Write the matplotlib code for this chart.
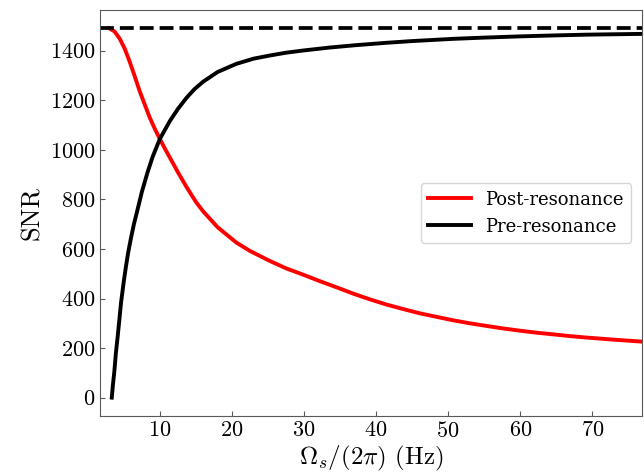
import matplotlib
matplotlib.use("Agg")
import matplotlib.pyplot as plt

freq_post = [3.0, 3.7, 4.4, 5.1, 5.8, 6.5, 7.2, 7.9, 8.6, 9.3, 10.0, 10.7, 11.4,
             12.5, 13.7, 15.0, 16.0, 18.0, 20.6, 22.5, 25.3, 27.5, 29.9,
             32.2, 35.0, 36.8, 39.0, 41.4, 43.7, 46.1, 48.4, 50.7, 53.0,
             55.4, 57.7, 60.0, 62.3, 64.7, 67.0, 69.4, 73.0, 76.9]
snr_post = [1490, 1478, 1450, 1410, 1357, 1298, 1237, 1183, 1130, 1085, 1044,
            1005, 968, 910, 850, 790, 752, 688, 626, 592, 551, 522, 496,
            470, 440, 420, 398, 376, 358, 340, 326, 312, 300,
            289, 279, 270, 262, 255, 248, 242, 234, 226]

freq_pre = [3.33, 3.5, 3.7, 3.9, 4.16, 4.4, 4.62, 5.0, 5.3, 5.6, 6.0, 6.4, 6.7,
            7.0, 7.5, 8.3, 9.0, 10.0, 11.4, 12.5, 13.7, 14.8, 16.0, 18.0,
            20.6, 23.0, 25.3, 27.5, 29.9, 33.6, 37.0, 41.4, 45.0, 50.7, 55.0,
            60.0, 65.0, 69.4, 76.9]
snr_pre = [0, 55, 110, 180, 250, 320, 385, 470, 530, 585, 645, 700, 735,
           770, 830, 910, 972, 1044, 1117, 1165, 1210, 1245, 1275, 1314,
           1347, 1368, 1381, 1392, 1401, 1413, 1422, 1432, 1439, 1448, 1453,
           1458, 1462, 1465, 1468]

snr_limit = 1490
x_range = [1.76, 76.9]

plt.rcParams["font.family"] = "serif"
plt.rcParams["font.serif"] = ["cmr10", "DejaVu Serif"]
plt.rcParams["mathtext.fontset"] = "cm"
plt.rcParams["axes.formatter.use_mathtext"] = True

fig = plt.figure(figsize=(6.44, 4.75), dpi=100)
ax = fig.add_axes([0.156, 0.124, 0.841, 0.855])

ax.plot(freq_post, snr_post, color="red", lw=2.8, label="Post-resonance")
ax.plot(freq_pre, snr_pre, color="black", lw=2.8, label="Pre-resonance")
ax.plot(x_range, [snr_limit, snr_limit], color="black", lw=2.7, ls="--")

ax.set_xlim(x_range)
ax.set_xticks([10, 20, 30, 40, 50, 60, 70])
ax.set_yticks([0, 200, 400, 600, 800, 1000, 1200, 1400])

ax.set_xlabel(r"$\Omega_s/(2\pi)$ (Hz)", fontsize=18, labelpad=2)
ax.set_ylabel("SNR", fontsize=19)
ax.tick_params(direction="in", labelsize=16, color="0.35")
for sp in ax.spines.values():
    sp.set_color("0.35")

ax.legend(loc="center right", prop={"family": "DejaVu Serif", "size": 13},
          handlelength=2.4, borderaxespad=0.6)

fig.savefig("out.png", dpi=100)
